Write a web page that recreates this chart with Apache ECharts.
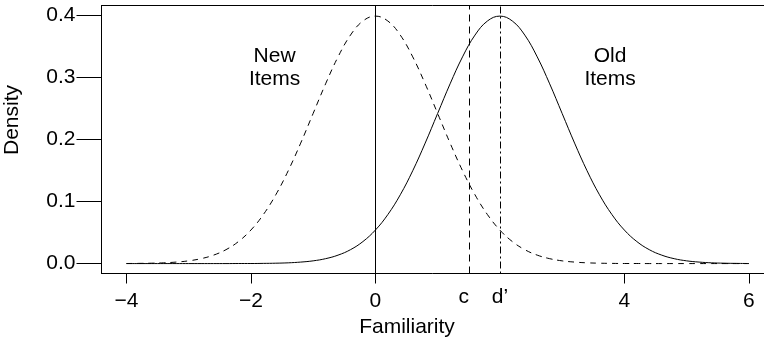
<!DOCTYPE html>
<html>
<head>
<meta charset="utf-8">
<title>Signal detection: familiarity distributions</title>
<script src="https://cdn.jsdelivr.net/npm/echarts@6/dist/echarts.min.js"></script>
<style>
  html, body { margin: 0; padding: 0; background: #fff; }
  #chart { width: 764px; height: 343px; }
</style>
</head>
<body>
<div id="chart"></div>
<script>
// Familiarity values at which the two densities are tabulated
const familiarity = [
  -4.0, -3.8, -3.6, -3.4, -3.2, -3.0, -2.8, -2.6, -2.4, -2.2,
  -2.0, -1.8, -1.6, -1.4, -1.2, -1.0, -0.8, -0.6, -0.4, -0.2,
   0.0,  0.2,  0.4,  0.6,  0.8,  1.0,  1.2,  1.4,  1.6,  1.8,
   2.0,  2.2,  2.4,  2.6,  2.8,  3.0,  3.2,  3.4,  3.6,  3.8,
   4.0,  4.2,  4.4,  4.6,  4.8,  5.0,  5.2,  5.4,  5.6,  5.8,
   6.0
];

// Density of familiarity for new items (dashed curve)
const newItems = [
  0.0001, 0.0003, 0.0006, 0.0012, 0.0024, 0.0044, 0.0079, 0.0136, 0.0224, 0.0355,
  0.0540, 0.0790, 0.1109, 0.1497, 0.1942, 0.2420, 0.2897, 0.3332, 0.3683, 0.3910,
  0.3989, 0.3910, 0.3683, 0.3332, 0.2897, 0.2420, 0.1942, 0.1497, 0.1109, 0.0790,
  0.0540, 0.0355, 0.0224, 0.0136, 0.0079, 0.0044, 0.0024, 0.0012, 0.0006, 0.0003,
  0.0001, 0.0001, 0, 0, 0, 0, 0, 0, 0, 0,
  0
];

// Density of familiarity for old items (solid curve)
const oldItems = [
  0, 0, 0, 0, 0, 0, 0, 0, 0, 0.0001,
  0.0001, 0.0003, 0.0006, 0.0012, 0.0024, 0.0044, 0.0079, 0.0136, 0.0224, 0.0355,
  0.0540, 0.0790, 0.1109, 0.1497, 0.1942, 0.2420, 0.2897, 0.3332, 0.3683, 0.3910,
  0.3989, 0.3910, 0.3683, 0.3332, 0.2897, 0.2420, 0.1942, 0.1497, 0.1109, 0.0790,
  0.0540, 0.0355, 0.0224, 0.0136, 0.0079, 0.0044, 0.0024, 0.0012, 0.0006, 0.0003,
  0.0001
];

// Reference lines: mean of new items, criterion c, sensitivity d'
const newMean = 0;
const criterion = 1.5;
const dPrime = 2;

// Axis ticks (2 is left unlabelled: d' sits there)
const xTicks = [-4, -2, 0, 4, 6];
const yTicks = [0.0, 0.1, 0.2, 0.3, 0.4];

// Marker labels under the axis
const markerLabels = ['c', 'd\u2019'];
const markerLabelPos = [1.42, 2];

// In-plot annotations (data coordinates)
const annotations = [
  { x: -1.62, y: 0.316, text: 'New\nItems' },
  { x: 3.77, y: 0.316, text: 'Old\nItems' }
];

const FONT = '"Liberation Sans", Arial, Helvetica, sans-serif';
const FS = 21;
const X_MIN = -4.4, X_MAX = 6.243;   // plot box runs past the right edge of the canvas
const Y_MIN = -0.016, Y_MAX = 0.416;

const pairs = (xs, ys) => xs.map((x, i) => [x, ys[i]]);
const frameLine = { show: true, onZero: false, lineStyle: { color: '#000', width: 1 } };

const chart = echarts.init(document.getElementById('chart'), null, { renderer: 'canvas' });

chart.setOption({
  animation: false,
  backgroundColor: '#fff',
  grid: { left: 101.5, top: 5.5, right: 0, height: 268, show: false },
  xAxis: [
    {
      type: 'value', min: X_MIN, max: X_MAX, position: 'bottom',
      splitLine: { show: false },
      axisLine: frameLine,
      axisTick: { show: true, inside: false, length: 10, customValues: xTicks,
                  lineStyle: { color: '#000', width: 1 } },
      axisLabel: { show: true, customValues: xTicks, margin: 17,
                   color: '#000', fontFamily: FONT, fontSize: FS,
                   formatter: v => String(v).replace('-', '\u2212') }
    },
    {
      type: 'value', min: X_MIN, max: X_MAX, position: 'bottom',
      splitLine: { show: false },
      axisLine: { show: false, onZero: false },
      axisTick: { show: false },
      axisLabel: { show: true, customValues: markerLabelPos, margin: 13,
                   color: '#000', fontFamily: FONT, fontSize: FS,
                   formatter: v => markerLabels[markerLabelPos.indexOf(v)] }
    },
    {
      // top edge of the plot box
      type: 'value', min: X_MIN, max: X_MAX, position: 'top',
      splitLine: { show: false },
      axisLine: frameLine,
      axisTick: { show: false },
      axisLabel: { show: false }
    }
  ],
  yAxis: {
    type: 'value', min: Y_MIN, max: Y_MAX, position: 'left',
    splitLine: { show: false },
    axisLine: frameLine,
    axisTick: { show: true, inside: false, length: 25, customValues: yTicks,
                lineStyle: { color: '#000', width: 1 } },
    axisLabel: { show: true, customValues: yTicks, margin: 26,
                 color: '#000', fontFamily: FONT, fontSize: FS,
                 formatter: v => v.toFixed(1) }
  },
  series: [
    {
      name: 'New Items', type: 'line', xAxisIndex: 0,
      data: pairs(familiarity, newItems),
      showSymbol: false, symbol: 'none', smooth: 0.4, silent: true,
      lineStyle: { color: '#000', width: 1, type: [6, 5] },
      markLine: {
        silent: true, symbol: 'none', label: { show: false },
        data: [
          { xAxis: newMean, lineStyle: { color: '#000', width: 1, type: 'solid' } },
          { xAxis: criterion, lineStyle: { color: '#000', width: 1, type: [7, 5] } },
          { xAxis: dPrime, lineStyle: { color: '#000', width: 1, type: [2, 3, 7, 3] } }
        ]
      }
    },
    {
      name: 'Old Items', type: 'line', xAxisIndex: 0,
      data: pairs(familiarity, oldItems),
      showSymbol: false, symbol: 'none', smooth: 0.4, silent: true,
      lineStyle: { color: '#000', width: 1, type: 'solid' }
    }
  ]
});

// Annotation texts placed through the chart's own coordinate system
const annotationGraphics = annotations.map(a => {
  const [px, py] = chart.convertToPixel({ xAxisIndex: 0, yAxisIndex: 0 }, [a.x, a.y]);
  return {
    type: 'text', x: px, y: py, silent: true,
    style: { text: a.text, fill: '#000', font: FS + 'px ' + FONT, lineHeight: 23,
             textAlign: 'center', textVerticalAlign: 'middle' }
  };
});

chart.setOption({
  graphic: [
    {
      type: 'text', x: 407, y: 327, silent: true,
      style: { text: 'Familiarity', fill: '#000', font: FS + 'px ' + FONT,
               textAlign: 'center', textVerticalAlign: 'middle' }
    },
    {
      type: 'text', x: 12, y: 120, rotation: Math.PI / 2, silent: true,
      style: { text: 'Density', fill: '#000', font: FS + 'px ' + FONT,
               textAlign: 'center', textVerticalAlign: 'middle' }
    }
  ].concat(annotationGraphics)
});
</script>
</body>
</html>
